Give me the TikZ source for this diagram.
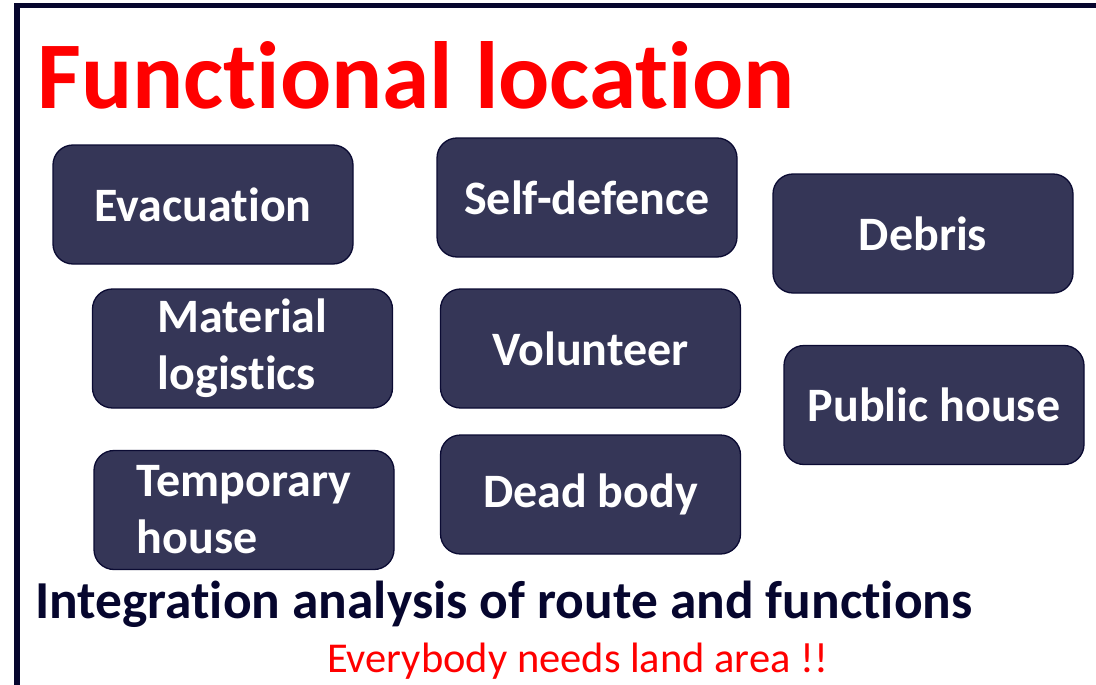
\documentclass[tikz,border=0pt]{standalone}
\usepackage{fontspec}
\setmainfont{Carlito}[Ligatures=NoCommon]
\usetikzlibrary{positioning}
\definecolor{boxfill}{HTML}{353657}
\definecolor{boxline}{HTML}{0B0B33}
\definecolor{framenavy}{HTML}{06062E}
\tikzset{%
  funcbox/.style = {shape=rectangle, rounded corners=20pt,%
                    draw=boxline, line width=1.3pt, fill=boxfill,%
                    minimum width=300pt, minimum height=119pt,%
                    text=white, align=left, inner sep=0pt,%
                    font=\fontsize{48}{57}\selectfont\bfseries},%
  plaintext/.style = {anchor=base west, inner sep=0pt}%
}

\begin{document}
\begin{tikzpicture}[x=1pt,y=-1pt]%
	\useasboundingbox (0,0) rectangle (1096,685);
	% frame
	\draw[framenavy, line width=5.5pt] (17,685) -- (17,5.5) -- (1096,5.5);
	% heading
	\node[plaintext, text=red, font=\fontsize{95.5}{110}\selectfont\bfseries]
		(title) at (37,108) {Functional location};
	% the functions
	\node[funcbox] (evac)    at (203,204.5) {Evacuation};
	\node[funcbox] (selfdef) at (587,197.5) {Self-defence};
	\node[funcbox] (debris)  at (923,233.5) {Debris};
	\node[funcbox] (matlog)  at (242.5,348.5) {Material\\logistics};
	\node[funcbox] (volunt)  at (590.5,348.5) {Volunteer};
	\node[funcbox] (pubhouse) at (934,405) {Public house};
	\node[funcbox] (temphouse) at (244,510) {Temporary\\house};
	\node[funcbox] (deadbody) at (590.5,494.5) {Dead body};
	% bottom lines
	\node[plaintext, text=framenavy, font=\fontsize{53.4}{60}\selectfont\bfseries]
		(integ) at (35,618) {Integration analysis of route and functions};
	\node[plaintext, text=red, font=\fontsize{42.5}{50}\selectfont]
		(needs) at (327,672) {Everybody needs land area !!};
\end{tikzpicture}
\end{document}
